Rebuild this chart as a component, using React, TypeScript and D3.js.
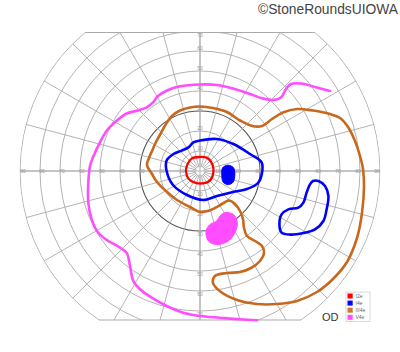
import React from "react";
import * as d3 from "d3";

// ---- chart data (visual field coordinates in degrees: [x°, y°], y up) ----
const circleDegs = [10, 20, 30, 40, 50, 60, 70, 80, 90];
const meridianStep = 15;
const horizontalLabels = [10, 20, 30, 40, 50, 60, 70, 80, 90];
const upperLabels = [10, 20, 30, 40, 50, 60, 70];
const lowerLabels = [10, 20, 30, 40, 50, 60, 70];
const topLimit = 69.25;
const bottomLimit = 74.5;
const darkCircle = 30;

const legendLabels = ["I2e", "I4e", "III4e", "V4e"];
const legendColors = ["#ff0000", "#0000ff", "#cc7a33", "#ff4dff"];

const isoI2e: [number, number][] = [
  [-0.3, 7], [3.3, 6.7], [5.3, 5], [6.7, 1.3], [6.3, -2.5], [4.7, -5], [1.3, -6.2],
  [-2.5, -5.8], [-5.8, -3.8], [-7, 0], [-6.3, 3.3], [-4.2, 6.2],
];

const isoI4e: [number, number][] = [
  [0, 15.25], [8.3, 16], [16.7, 13.5], [25, 8.5], [30.8, 4.3], [31, -1], [29, -6],
  [23.5, -9], [16.5, -10.5], [8.5, -12.5], [1.5, -14.5], [-6.5, -12], [-13.5, -7],
  [-16.7, 0], [-16.7, 5.2], [-13.3, 8.5], [-9.2, 10.2], [-5.8, 11.8], [-3.3, 14.3],
];

const isoI4eSpot: [number, number][] = [
  [14, 2.9], [16.8, 1.6], [17.4, -2], [16.6, -5.5], [14.2, -6.8], [11.6, -5.6],
  [10.9, -2], [11.3, 1.6],
];

const isoI4eIsland: [number, number][] = [
  [59.2, -5], [62.5, -7.5], [64.2, -12.5], [63.3, -19.2], [61.7, -25], [57.5, -29.2],
  [51.7, -31], [45, -31.8], [40.8, -30.8], [39.7, -26.7], [40.8, -21.7], [44.2, -19.2],
  [49.2, -18.3], [51.7, -15.8], [53.3, -10.8], [55, -6.7], [56.5, -5],
];

const isoIII4e: [number, number][] = [
  [0, 32.25], [6.5, 31.5], [13.5, 29.5], [20, 25.25], [26, 22.5], [31, 22.5], [36, 26],
  [41.5, 29.25], [48.5, 31], [56.5, 30.25], [65, 28.5], [70, 26.5], [74, 22], [77.5, 15],
  [80, 7.5], [81.5, 1], [82, -7.5], [81, -21], [78.5, -33.5], [73.5, -45.5], [66.5, -54],
  [58.5, -60.5], [48.5, -65], [38.5, -66.5], [28.5, -66.5], [18.5, -64.5], [10.5, -60.5],
  [6.5, -56], [7.5, -52.5], [13.5, -51], [20, -50.5], [25.5, -48.5], [30, -45], [32, -41],
  [31, -37.5], [27.5, -35], [23.5, -32.5], [22, -28.5], [21.5, -24], [20, -20],
  [17.5, -16.5], [14.5, -14.75], [11, -16.5], [7.5, -18.5], [4, -20], [0, -20.5],
  [-5, -18], [-11.5, -14.5], [-16.5, -10.5], [-21.5, -5.5], [-24, -1.5], [-26.5, 3],
  [-25.5, 6.5], [-24, 10], [-22, 14.5], [-19.5, 19], [-17, 23.5], [-14, 27.5],
  [-10, 30.25], [-5, 31.75],
];

const isoV4e: [number, number][] = [
  [65, 40], [58.5, 41.75], [50.5, 43.75], [45.5, 43.5], [43, 41], [40.5, 36.75],
  [36.5, 35.5], [31.5, 36.25], [25, 38.5], [16.5, 41.25], [8.5, 43], [0, 43.25],
  [-10, 42.35], [-16.5, 40.25], [-21, 37.5], [-23.5, 34.35], [-26.65, 31.85],
  [-31.65, 30.15], [-36.65, 28.75], [-41.65, 25.15], [-46.65, 20.15], [-50, 14.35],
  [-53, 8], [-55, 2.5], [-55.85, -5.85], [-55.85, -15.85], [-54.15, -24.15],
  [-50.85, -30.85], [-45.85, -35], [-40.85, -37.75], [-36.65, -41], [-35, -47.5],
  [-33.35, -55], [-30, -59.15], [-24.15, -63.35], [-16.65, -67.5], [-8.35, -70.85],
  [0, -72.5], [10, -73.35], [20, -74.15], [28.5, -74.6],
];

const isoV4eSpot: [number, number][] = [
  [12.5, -20.8], [16.7, -21.7], [18.7, -25.8], [17.5, -30.8], [14.2, -35], [8.3, -36.8],
  [4.2, -35], [3, -30], [5, -26.7], [8.3, -25], [10, -22.5],
];

// ---- layout ----
const W = 400;
const H = 352;
const cx = 200;
const cy = 171;
const R90 = 180;

export default function App() {
  const x = d3.scaleLinear().domain([-90, 90]).range([cx - R90, cx + R90]);
  const y = d3.scaleLinear().domain([-90, 90]).range([cy + R90, cy - R90]);
  const r = d3.scaleLinear().domain([0, 90]).range([0, R90]);

  const yTop = y(topLimit);
  const yBot = y(-bottomLimit);
  const halfTop = Math.sqrt(R90 * R90 - (cy - yTop) ** 2);
  const halfBot = Math.sqrt(R90 * R90 - (yBot - cy) ** 2);

  const closed = d3
    .line<[number, number]>()
    .x((d) => x(d[0]))
    .y((d) => y(d[1]))
    .curve(d3.curveCatmullRomClosed.alpha(0.5));
  const open = d3
    .line<[number, number]>()
    .x((d) => x(d[0]))
    .y((d) => y(d[1]))
    .curve(d3.curveCatmullRom.alpha(0.5));

  const meridians = d3.range(0, 360, meridianStep);
  const gridColor = "#aaaaaa";
  const labelColor = "#999999";
  const labelFont = 5;

  return (
    <svg
      width={W}
      height={H}
      style={{ position: "absolute", left: 0, top: 0, background: "#fff" }}
      fontFamily="'Liberation Sans', Arial, sans-serif"
    >
      <defs>
        <clipPath id="circ">
          <circle cx={cx} cy={cy} r={R90 + 0.5} />
        </clipPath>
        <clipPath id="band">
          <rect x={0} y={yTop} width={W} height={yBot - yTop} />
        </clipPath>
      </defs>

      <g clipPath="url(#band)">
        <g clipPath="url(#circ)">
          {circleDegs.map((d) => (
            <circle
              key={"c" + d}
              cx={cx}
              cy={cy}
              r={r(d)}
              fill="none"
              stroke={d === darkCircle ? "#555555" : gridColor}
              strokeWidth={d === darkCircle ? 1.1 : 0.9}
            />
          ))}
          {meridians.map((a) => {
            const rad = (a * Math.PI) / 180;
            return (
              <line
                key={"m" + a}
                x1={cx + r(2) * Math.cos(rad)}
                y1={cy - r(2) * Math.sin(rad)}
                x2={cx + R90 * Math.cos(rad)}
                y2={cy - R90 * Math.sin(rad)}
                stroke={gridColor}
                strokeWidth={0.9}
              />
            );
          })}
          <line x1={cx - R90} x2={cx + R90} y1={cy} y2={cy} stroke={gridColor} strokeWidth={0.9} />
          <line x1={cx} x2={cx} y1={cy - R90} y2={cy + R90} stroke={gridColor} strokeWidth={0.9} />
        </g>
      </g>
      {/* outer boundary: top and bottom cut lines */}
      <line x1={cx - halfTop} x2={cx + halfTop} y1={yTop} y2={yTop} stroke={gridColor} strokeWidth={1} />
      <line x1={cx - halfBot} x2={cx + halfBot} y1={yBot} y2={yBot} stroke={gridColor} strokeWidth={1} />

      {/* degree labels */}
      <g fontSize={labelFont} fill={labelColor} textAnchor="middle">
        {horizontalLabels.map((d) => {
          const inset = d === 90 ? 3 : 2;
          return (
            <g key={"h" + d}>
              <text x={x(-d) + inset} y={cy + 1.8}>{d}</text>
              <text x={x(d) - inset} y={cy + 1.8}>{d}</text>
            </g>
          );
        })}
        {upperLabels.map((d) => (
          <text key={"u" + d} x={cx} y={Math.max(y(d) - 1.5, yTop + 4)}>{d}</text>
        ))}
        {lowerLabels.map((d) => (
          <text key={"l" + d} x={cx} y={y(-d) + 4.5}>{d}</text>
        ))}
      </g>

      {/* isopters */}
      <path d={open(isoV4e) || ""} fill="none" stroke="#ff4dff" strokeWidth={2.6} strokeLinecap="round" />
      <path d={closed(isoV4eSpot) || ""} fill="#ff4dff" stroke="#ff4dff" strokeWidth={1} />
      <path d={closed(isoIII4e) || ""} fill="none" stroke="#c8681e" strokeWidth={2.6} />
      <path d={closed(isoI4e) || ""} fill="none" stroke="#0000ff" strokeWidth={2.6} />
      <path d={closed(isoI4eIsland) || ""} fill="none" stroke="#0000ff" strokeWidth={2.6} />
      <path d={closed(isoI4eSpot) || ""} fill="#0000ff" stroke="#0000ff" strokeWidth={1} />
      <path d={closed(isoI2e) || ""} fill="none" stroke="#ff0000" strokeWidth={2.3} />

      {/* legend */}
      <rect x={346} y={292} width={24} height={29.5} fill="#fff" stroke="#cfcfcf" strokeWidth={0.8} />
      {legendLabels.map((lab, i) => (
        <g key={lab}>
          <rect x={347.5} y={293.5 + i * 7.1} width={5.2} height={5} fill={legendColors[i]} />
          <text x={355.5} y={297.8 + i * 7.1} fontSize={5} fill="#666">{lab}</text>
        </g>
      ))}

      <text x={322} y={321} fontSize={11} fill="#333">OD</text>

      <text x={398} y={14} fontSize={13.8} fill="#444" textAnchor="end">
        ©StoneRoundsUIOWA
      </text>
    </svg>
  );
}
